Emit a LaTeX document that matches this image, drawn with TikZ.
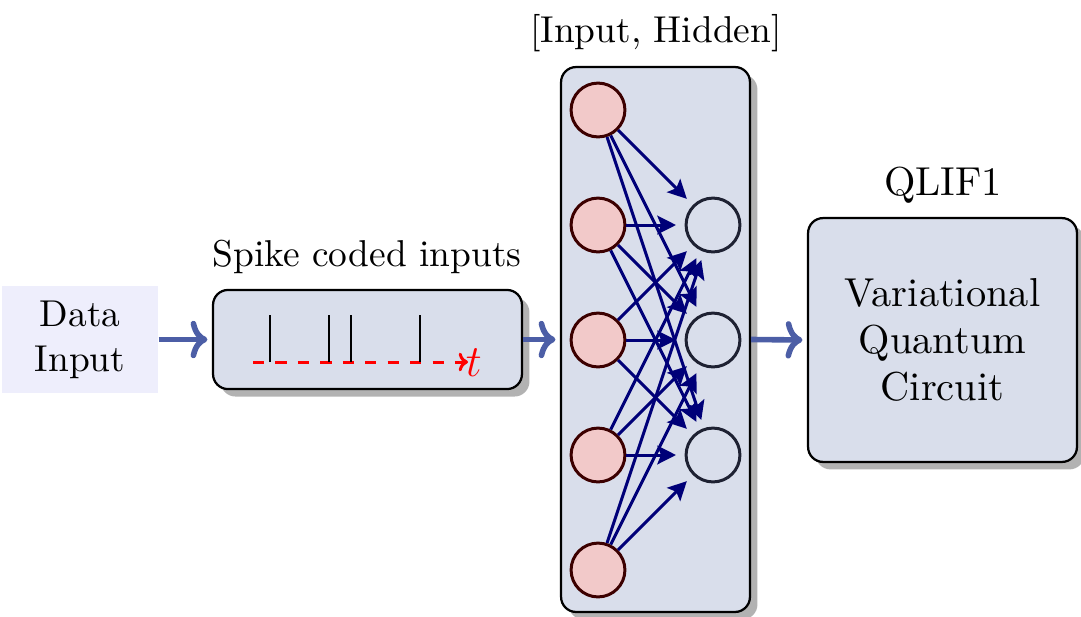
\documentclass[tikz,border=0pt]{standalone}
\usetikzlibrary{arrows.meta,shadows}
\definecolor{boxfill}{RGB}{217,222,235}
\definecolor{datafill}{RGB}{238,238,252}
\definecolor{bigblue}{RGB}{76,94,166}
\definecolor{edgeblue}{RGB}{0,0,120}
\definecolor{inputfill}{RGB}{242,201,201}
\definecolor{inputdraw}{RGB}{60,0,0}
\definecolor{hiddendraw}{RGB}{30,33,50}
\tikzset{
  block/.style={draw=black, semithick, rounded corners=4pt, fill=boxfill,
    drop shadow={shadow xshift=2pt, shadow yshift=-2pt, fill=black!30, opacity=1},
    align=center, inner sep=0pt},
  databox/.style={fill=datafill, align=center, inner sep=0pt},
  bigarrow/.style={draw=bigblue, line width=1.5pt, -{To[length=4.5pt,width=10pt,round]}, shorten >=1.2pt},
  inneuron/.style={circle, draw=inputdraw, thick, fill=inputfill, minimum size=14.4pt, inner sep=0pt},
  hidneuron/.style={circle, draw=hiddendraw, thick, minimum size=14.4pt, inner sep=0pt},
  edge/.style={draw=edgeblue, thick, -{Stealth[length=5pt,width=5pt,inset=1pt]}, shorten >=2.3pt},
  spikeline/.style={draw=black, semithick},
  label/.style={inner sep=0pt}
}
\begin{document}
\begin{tikzpicture}[x=0.2674pt, y=-0.2674pt]
\useasboundingbox (0,0) rectangle (1081,616);
% boxes
\node[databox, minimum width=41.7pt, minimum height=28.6pt] (data) at (80,339.5) {Data\\Input};
\node[block, minimum width=82.6pt, minimum height=26.5pt] (spike) at (367.5,339.5) {};
\node[block, minimum width=50.5pt, minimum height=145.7pt] (net) at (655.5,339.5) {};
\node[block, minimum width=71.9pt, minimum height=65.2pt, font=\fontsize{10.8}{12.6}\selectfont] (qlif) at (942.5,340) {Variational\\Quantum\\Circuit};
% labels
\node[label] (spikelab) at (367,257) {Spike coded inputs};
\node[label] (netlab) at (656,33) {[Input, Hidden]};
\node[label, font=\fontsize{10.8}{12.6}\selectfont] (qliflab) at (943,185) {QLIF1};
% spike train
\coordinate (ts) at (253,362);
\coordinate (te) at (468,362);
\draw[red, thick, dashed, -{To[length=2.5pt,width=5pt]}] (ts) -- (te);
\node[red, anchor=west, inner sep=0pt, font=\fontsize{11.5}{13}\selectfont] (tlab) at (465,363) {$t$};
\foreach \x [count=\k] in {270,329,351,420}{
  \coordinate (sb\k) at (\x,362);
  \coordinate (st\k) at (\x,315);
  \draw[spikeline] (sb\k) -- (st\k);
}
% neurons
\foreach \y [count=\i] in {110,225,340,455,570}
  \node[inneuron] (i\i) at (598,\y) {};
\foreach \y [count=\j] in {225,340,455}
  \node[hidneuron] (h\j) at (713,\y) {};
\foreach \i in {1,...,5}
  \foreach \j in {1,2,3}
    \draw[edge] (i\i) -- (h\j);
% big arrows
\draw[bigarrow] (data.east) -- (spike.west);
\draw[bigarrow] (spike.east) -- (net.west);
\draw[bigarrow] (net.east) -- (qlif.west);
\end{tikzpicture}
\end{document}
